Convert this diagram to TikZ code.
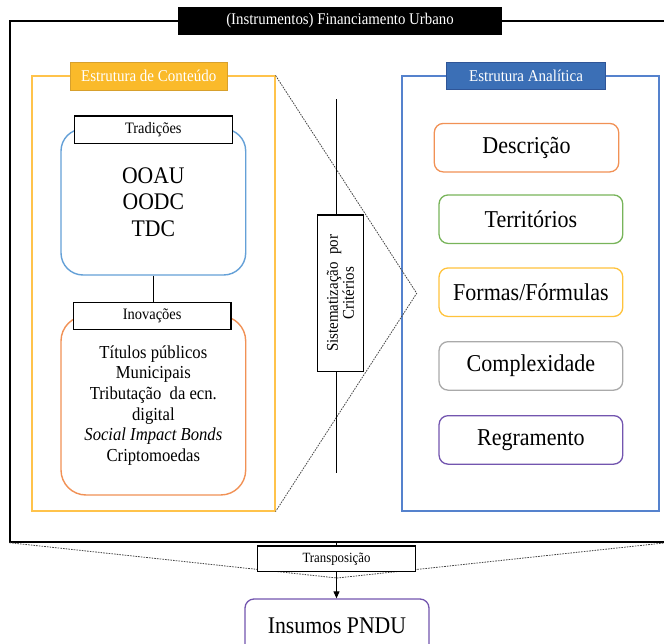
\documentclass[tikz,border=0pt]{standalone}
\usepackage{fontspec}
\setmainfont{Liberation Serif}[FakeStretch=0.91]
\usetikzlibrary{arrows.meta}
\definecolor{cframecol}{RGB}{255,195,75}
\definecolor{clabelfill}{RGB}{250,186,42}
\definecolor{clabeldraw}{RGB}{215,160,45}
\definecolor{aframecol}{RGB}{85,130,205}
\definecolor{alabelfill}{RGB}{59,111,182}
\definecolor{alabeldraw}{RGB}{47,85,151}
\definecolor{tradcol}{RGB}{100,160,215}
\definecolor{orangecol}{RGB}{241,145,85}
\definecolor{greencol}{RGB}{120,180,90}
\definecolor{yellowcol}{RGB}{255,195,60}
\definecolor{graycol}{RGB}{170,170,170}
\definecolor{purplecol}{RGB}{115,85,175}
\definecolor{dotcol}{RGB}{70,70,70}
\newcommand{\fsz}[2]{\fontsize{#1}{#2}\selectfont}
\tikzset{
  frame/.style={draw, line width=1.1pt, inner sep=0pt},
  tag/.style={draw, line width=1.2pt, fill=white, inner sep=0pt, font=\fsz{15.9pt}{17pt}},
  headlabel/.style={inner sep=0pt, text=white, font=\fsz{16.5pt}{18pt}},
  roundbox/.style={draw, line width=1.4pt, fill=white, inner sep=0pt, align=center},
  rbox/.style={draw, line width=1.3pt, rounded corners=9pt, fill=white, inner sep=0pt,
    minimum width=183.7pt, minimum height=48.5pt, font=\fsz{24.2pt}{26pt}},
  link/.style={line width=1pt, black},
  zoomline/.style={line width=0.8pt, dotcol, dash pattern=on 1.6pt off 1.1pt},
}
\begin{document}
\begin{tikzpicture}[x=1pt, y=-1pt]
\useasboundingbox (0,0) rectangle (664,644);
% outer frame and title
\node[draw, line width=1.4pt, minimum width=656pt, minimum height=521pt, inner sep=0pt] (outer) at (338,281.5) {};
\node[fill=black, text=white, inner sep=0pt, minimum width=324pt, minimum height=28pt, font=\fsz{16.3pt}{17pt}] (title) at (340,21) {(Instrumentos) Financiamento Urbano};
% left frame
\node[frame, draw=cframecol, minimum width=243pt, minimum height=435pt] (cframe) at (153.5,293.5) {};
\node[headlabel, fill=clabelfill, draw=clabeldraw, line width=0.8pt, minimum width=157.5pt, minimum height=28pt] (clabel) at (148.75,76) {Estrutura de Conteúdo};
% right frame
\node[frame, draw=aframecol, minimum width=257pt, minimum height=435pt] (aframe) at (530.5,293.5) {};
\node[headlabel, fill=alabelfill, draw=alabeldraw, line width=0.8pt, minimum width=158.5pt, minimum height=27pt] (alabel) at (526,76) {Estrutura Analítica};
% zoom lines
\coordinate (apex) at (416.7,293.3);
\draw[zoomline] (cframe.north east) -- (apex) -- (cframe.south east);
% tradicoes
\node[roundbox, draw=tradcol, rounded corners=22pt, minimum width=184.7pt, minimum height=146pt, font=\fsz{23.8pt}{26.7pt}] (tradbox) at (153.35,202) {OOAU\\OODC\\TDC};
\node[tag, minimum width=158pt, minimum height=27.3pt] (tradlabel) at (153.3,129.7) {Tradições};
% inovacoes
\node[roundbox, draw=orangecol, rounded corners=25pt, minimum width=184.7pt, minimum height=179pt, font=\fsz{18.3pt}{20.7pt}] (innbox) at (153.35,405.5) {Títulos públicos\\Municipais\\Tributação~ da ecn.\\digital\\\textit{Social Impact Bonds}\\Criptomoedas};
\node[tag, minimum width=157.7pt, minimum height=26.6pt] (innlabel) at (152.2,316) {Inovações};
\draw[link] (tradbox.south) -- (tradbox.south |- innlabel.north);
% central axis
\coordinate (ctop) at (336.8,99.3);
\coordinate (cbot) at (336.8,472.7);
\node[draw, line width=1.2pt, fill=white, rotate=90, inner sep=0pt, minimum width=156.7pt, minimum height=45.7pt, align=center, font=\fsz{16.4pt}{16pt}] (sist) at (340.5,293.3) {Sistematização~ por\\Critérios};
\draw[link] (ctop) -- (ctop |- sist.east);
\draw[link] (cbot) -- (cbot |- sist.west);
% analytic boxes
\node[rbox, draw=orangecol, minimum width=184.4pt] (desc) at (526.5,147.7) {Descrição};
\node[rbox, draw=greencol] (terr) at (530.9,219.2) {Territórios};
\node[rbox, draw=yellowcol] (form) at (530.9,292.2) {Formas/Fórmulas};
\node[rbox, draw=graycol] (comp) at (530.9,365.9) {Complexidade};
\node[rbox, draw=purplecol] (regr) at (530.9,439.9) {Regramento};
% bottom
\coordinate (vapex) at (337,578);
\draw[zoomline] (outer.south west) -- (vapex) -- (outer.south east);
\node[tag, line width=1.3pt, minimum width=157.7pt, minimum height=25.7pt, font=\fsz{14.1pt}{15pt}] (trans) at (336.5,558.9) {Transposição};
\draw[link] (trans.north) -- (trans.north |- outer.south);
\node[rbox, draw=purplecol, minimum width=184pt, minimum height=54pt, font=\fsz{23.9pt}{26pt}] (ins) at (337,626) {Insumos PNDU};
\draw[link, -{Triangle[length=7pt,width=6pt]}] (trans.south) -- (trans.south |- ins.north);
\end{tikzpicture}
\end{document}
